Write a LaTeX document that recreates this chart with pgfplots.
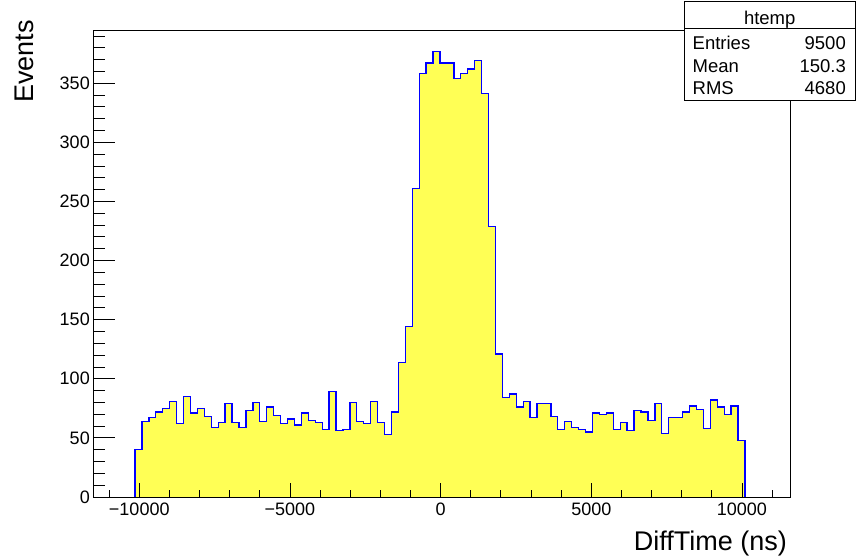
\documentclass[border=0pt]{standalone}
\usepackage{fontspec}
\setmainfont{Liberation Sans}
\usepackage{pgfplots}
\pgfplotsset{compat=1.18}
\definecolor{histfill}{RGB}{255,255,85}
\pgfplotsset{rootframe/.style={
  at={(93.3pt,60pt)}, anchor=south west,
  scale only axis, width=696.7pt, height=467pt,
  xmin=-11525, xmax=11595, ymin=0, ymax=395,
  axis line style={line width=0.8pt},
  tick pos=left, tick align=inside,
  tick style={line width=0.8pt, black},
  ticklabel style={font=\fontsize{18}{20}\selectfont},
  /pgf/number format/assume math mode=true,
  scaled x ticks=false, scaled y ticks=false,
}}
\begin{document}
\begin{tikzpicture}[x=1pt,y=1pt]
\useasboundingbox (0,0) rectangle (856,557);
\begin{axis}[rootframe,
  xtick=\empty,
  ytick={0,50,...,350},
  minor ytick={10,20,30,40,60,70,80,90,110,120,130,140,160,170,180,190,210,220,230,240,260,270,280,290,310,320,330,340,360,370,380,390},
  major tick length=21.5pt, minor tick length=11.5pt,
  clip=false,
]
\addplot[const plot mark left, draw=none, fill=histfill] coordinates {
(-10140,40) (-9910,64) (-9680,67) (-9450,72) (-9220,75) (-8990,81) (-8760,62) (-8530,85) (-8300,71) (-8070,75)
(-7840,68) (-7610,59) (-7380,63) (-7150,79) (-6920,63) (-6690,59) (-6460,73) (-6230,80) (-6000,64) (-5770,76)
(-5540,69) (-5310,62) (-5080,66) (-4850,61) (-4620,71) (-4390,65) (-4160,63) (-3930,57) (-3700,89) (-3470,56)
(-3240,57) (-3010,80) (-2780,64) (-2550,62) (-2320,81) (-2090,63) (-1860,53) (-1630,72) (-1400,114) (-1170,144)
(-940,261) (-710,358) (-480,367) (-250,377) (-20,367) (210,367) (440,354) (670,358) (900,362) (1130,369)
(1360,341) (1590,229) (1820,121) (2050,84) (2280,87) (2510,76) (2740,81) (2970,67) (3200,79) (3430,79)
(3660,68) (3890,57) (4120,64) (4350,59) (4580,57) (4810,55) (5040,71) (5270,70) (5500,71) (5730,57)
(5960,63) (6190,56) (6420,73) (6650,72) (6880,65) (7110,79) (7340,54) (7570,67) (7800,67) (8030,72)
(8260,77) (8490,74) (8720,58) (8950,82) (9180,76) (9410,70) (9640,77) (9870,48) (10100,48)
} \closedcycle;
\addplot[const plot mark left, draw=blue, line width=1.3pt] coordinates {
(-10140,0)
(-10140,40) (-9910,64) (-9680,67) (-9450,72) (-9220,75) (-8990,81) (-8760,62) (-8530,85) (-8300,71) (-8070,75)
(-7840,68) (-7610,59) (-7380,63) (-7150,79) (-6920,63) (-6690,59) (-6460,73) (-6230,80) (-6000,64) (-5770,76)
(-5540,69) (-5310,62) (-5080,66) (-4850,61) (-4620,71) (-4390,65) (-4160,63) (-3930,57) (-3700,89) (-3470,56)
(-3240,57) (-3010,80) (-2780,64) (-2550,62) (-2320,81) (-2090,63) (-1860,53) (-1630,72) (-1400,114) (-1170,144)
(-940,261) (-710,358) (-480,367) (-250,377) (-20,367) (210,367) (440,354) (670,358) (900,362) (1130,369)
(1360,341) (1590,229) (1820,121) (2050,84) (2280,87) (2510,76) (2740,81) (2970,67) (3200,79) (3430,79)
(3660,68) (3890,57) (4120,64) (4350,59) (4580,57) (4810,55) (5040,71) (5270,70) (5500,71) (5730,57)
(5960,63) (6190,56) (6420,73) (6650,72) (6880,65) (7110,79) (7340,54) (7570,67) (7800,67) (8030,72)
(8260,77) (8490,74) (8720,58) (8950,82) (9180,76) (9410,70) (9640,77) (9870,48) (10100,48)
(10100,0)
};
\end{axis}
\begin{axis}[rootframe,
  ytick=\empty,
  xtick={-10000,-5000,0,5000,10000},
  xticklabels={−10000,−5000,0,5000,10000},
  minor xtick={-11000,-9000,-8000,-7000,-6000,-4000,-3000,-2000,-1000,1000,2000,3000,4000,6000,7000,8000,9000,11000},
  major tick length=13.5pt, minor tick length=7pt,
  xticklabel style={yshift=-2pt},
]
\end{axis}
\node[rotate=90, anchor=base east, inner sep=0pt, font=\fontsize{27}{30}\selectfont] at (33,537) {Events};
\node[anchor=base east, inner sep=0pt, font=\fontsize{27}{30}\selectfont] at (787,7) {DiffTime (ns)};
\draw[line width=0.8pt, fill=white] (684,457) rectangle (855.4,555.3);
\draw[line width=0.8pt] (684,528.7) -- (855.4,528.7);
\begin{scope}[every node/.style={inner sep=0pt, font=\fontsize{18.5}{20}\selectfont}]
\node[anchor=base] at (769.7,532) {htemp};
\node[anchor=base west] at (692.5,507.7) {Entries};
\node[anchor=base east] at (846,507.7) {9500};
\node[anchor=base west] at (692.5,484.3) {Mean};
\node[anchor=base east] at (846,484.3) {150.3};
\node[anchor=base west] at (692.5,462.7) {RMS};
\node[anchor=base east] at (846,462.7) {4680};
\end{scope}
\end{tikzpicture}
\end{document}
